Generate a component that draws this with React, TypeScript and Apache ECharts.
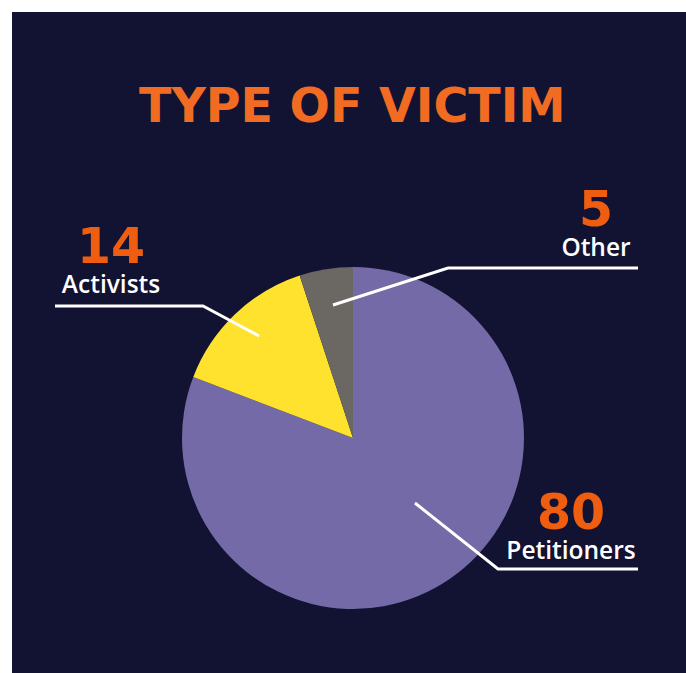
import React, { useEffect, useRef } from "react";
import * as echarts from "echarts";

const categories = ["Petitioners", "Activists", "Other"];
const values = [80, 14, 5];
const sliceColors = ["#736AA7", "#FEE22E", "#6B6762"];
const titleText = "TYPE OF VICTIM";

// label placement (chart pixels): text centre x, block bottom y, line points
const labelLayouts = [
  { x: 559, y: 551, line: [[403, 491], [486, 557], [626, 557]] },
  { x: 99, y: 285, line: [[247, 324], [191, 294], [43, 294]] },
  { x: 584, y: 248, line: [[321, 293], [436, 256], [626, 256]] },
];

export default function App() {
  const ref = useRef<HTMLDivElement>(null);
  useEffect(() => {
    if (!ref.current) return;
    const chart = echarts.init(ref.current, null, { renderer: "svg" });
    const data = categories.map((c, i) => ({
      name: c,
      value: values[i],
      itemStyle: { color: sliceColors[i] },
    }));
    const common = {
      type: "pie",
      center: [341, 426],
      radius: 171,
      startAngle: 90,
      clockwise: true,
      silent: true,
    };
    chart.setOption({
      animation: false,
      backgroundColor: "#121232",
      title: {
        text: titleText,
        left: 122,
        top: 64,
        textStyle: {
          color: "#F26B23",
          fontFamily: "DejaVu Sans",
          fontWeight: "bold",
          fontSize: 47.5,
        },
      },
      series: [
        {
          ...common,
          z: 2,
          data,
          label: { show: false },
          labelLine: { show: false },
        },
        {
          ...common,
          z: 5,
          data: data.map((d) => ({
            ...d,
            itemStyle: { color: "rgba(0,0,0,0)" },
          })),
          label: {
            show: true,
            position: "outside",
            formatter: (p: any) => `{num|${p.value}}\n{name|${p.name}}`,
            rich: {
              num: {
                color: "#EF5E10",
                fontFamily: "DejaVu Sans",
                fontWeight: "bold",
                fontSize: 49,
                lineHeight: 46,
                align: "center",
              },
              name: {
                color: "#FFFFFF",
                fontFamily: "Open Sans",
                fontWeight: 600,
                fontSize: 24.5,
                lineHeight: 28,
                align: "center",
              },
            },
          },
          labelLine: {
            show: true,
            lineStyle: { color: "#FFFFFF", width: 3 },
          },
          labelLayout: (params: any) => {
            const l = labelLayouts[params.dataIndex];
            return {
              x: l.x,
              y: l.y,
              align: "center",
              verticalAlign: "bottom",
              labelLinePoints: l.line,
            };
          },
        },
      ],
    });
    return () => chart.dispose();
  }, []);
  return (
    <div
      ref={ref}
      style={{ position: "absolute", left: 12, top: 12, width: 674, height: 661 }}
    />
  );
}
